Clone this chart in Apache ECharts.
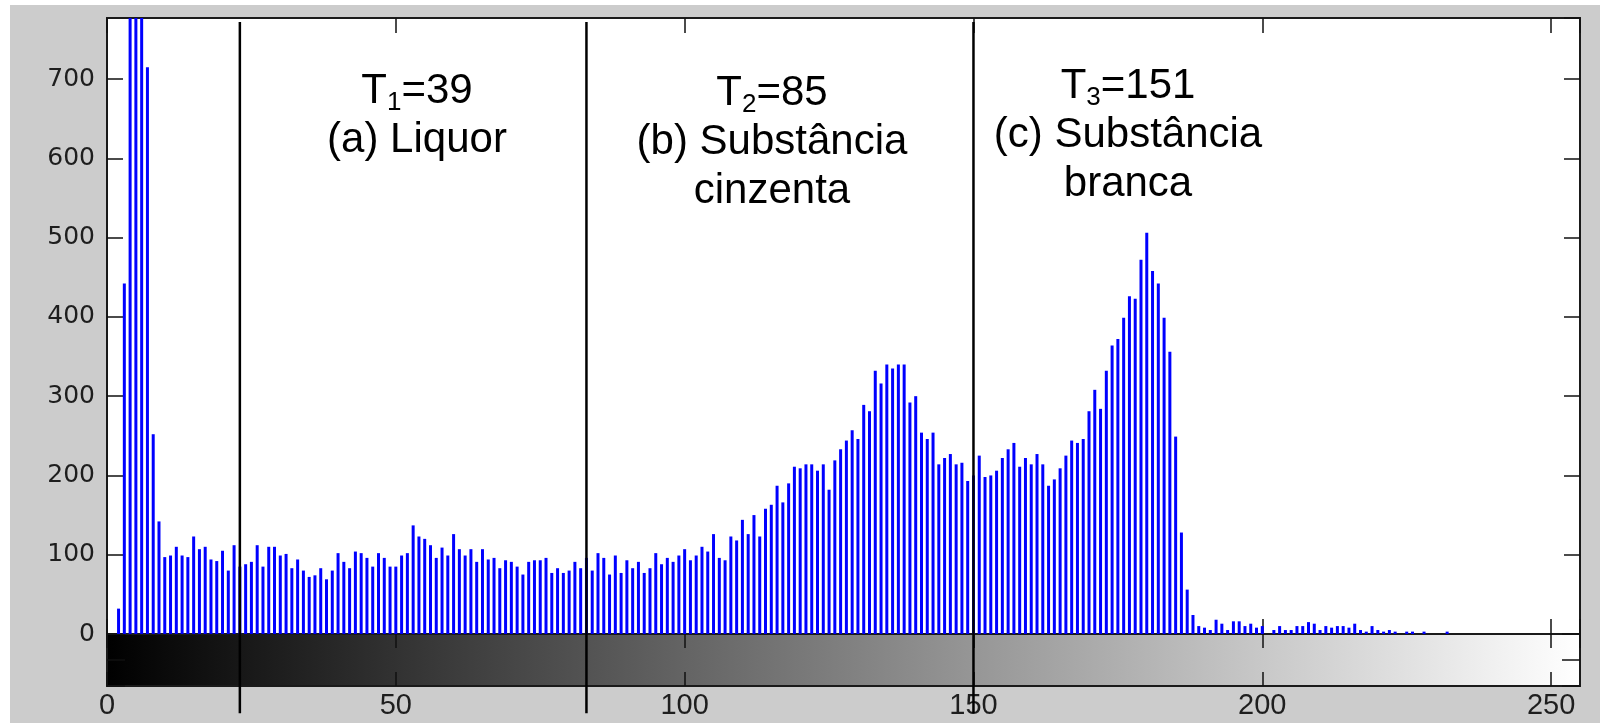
<!DOCTYPE html>
<html>
<head>
<meta charset="utf-8">
<script src="https://cdn.jsdelivr.net/npm/echarts@6/dist/echarts.min.js"></script>
<style>
  html, body { margin: 0; padding: 0; background: #ffffff; }
  #bg { position: absolute; left: 10px; top: 5px; right: 0; bottom: 0; background: #cccccc; }
  #chart { position: absolute; left: 0; top: 0; width: 1600px; height: 723px; }
</style>
</head>
<body>
<div id="bg"></div>
<div id="chart"></div>
<script>
// Histogram counts for gray levels 0..255 (bars 4-6 exceed the visible range)
const counts = [
  0, 0, 32, 442, 950, 1100, 950, 715, 252, 142,
  97, 99, 110, 99, 97, 123, 107, 110, 94, 92,
  105, 80, 112, 85, 88, 91, 112, 85, 110, 110,
  99, 101, 83, 94, 80, 72, 74, 83, 69, 80,
  102, 91, 83, 104, 102, 96, 85, 102, 96, 85,
  85, 99, 102, 137, 123, 120, 112, 96, 109, 99,
  126, 107, 99, 107, 91, 107, 94, 96, 83, 93,
  91, 85, 75, 91, 93, 93, 96, 77, 83, 77,
  80, 91, 83, 96, 80, 102, 96, 75, 99, 77,
  93, 83, 91, 77, 83, 102, 88, 96, 91, 99,
  107, 93, 99, 110, 104, 126, 96, 93, 123, 118,
  144, 126, 150, 123, 158, 163, 187, 166, 190, 211,
  209, 214, 214, 206, 214, 182, 219, 233, 244, 257,
  246, 289, 281, 332, 316, 340, 335, 340, 340, 292,
  300, 254, 246, 254, 214, 222, 227, 214, 216, 193,
  200, 225, 198, 200, 206, 222, 233, 241, 211, 222,
  214, 227, 214, 187, 195, 209, 225, 244, 241, 246,
  281, 308, 284, 332, 364, 372, 399, 426, 423, 472,
  506, 458, 442, 399, 356, 249, 128, 56, 24, 10,
  8, 5, 18, 13, 5, 16, 16, 10, 13, 8,
  10, 0, 5, 10, 5, 5, 10, 10, 15, 13,
  5, 10, 8, 10, 10, 8, 13, 5, 3, 10,
  5, 3, 5, 3, 0, 3, 3, 0, 3, 0,
  0, 0, 3, 0, 0, 0, 0, 0, 0, 0,
  0, 0, 0, 0, 0, 0, 0, 0, 0, 0,
  0, 0, 0, 0, 0, 0
];
// Threshold lines drawn on the plot (gray level)
const thresholdLines = [23, 83, 150];
// Annotation labels
const annotations = [
  { sub: '1', value: '=39', lines: ['(a) Liquor'] },
  { sub: '2', value: '=85', lines: ['(b) Substância', 'cinzenta'] },
  { sub: '3', value: '=151', lines: ['(c) Substância', 'branca'] }
];
// Gray-level range of the colour bar
const grayRange = [0, 255];
// Axis settings
const xMin = 0, xMax = 255, xInterval = 50;
const yMin = 0, yMax = 777, yInterval = 100;
const lineYBottom = -100, lineYTop = 772;

const barData = counts.map((v, i) => [i, v]);

const chart = echarts.init(document.getElementById('chart'), null, { renderer: 'canvas' });

const FONT = 'Liberation Sans, Arial, Helvetica, sans-serif';
const tickStyle = { color: '#111', width: 1.5 };

function xAx(gridIndex, position, tickLen, showLabel) {
  return {
    type: 'value', gridIndex, position, min: xMin, max: xMax, interval: xInterval,
    axisLine: { show: false, onZero: false },
    axisTick: { show: true, inside: true, length: tickLen, lineStyle: tickStyle },
    splitLine: { show: false },
    axisLabel: showLabel ? {
      show: true, showMaxLabel: false, margin: 5,
      fontFamily: FONT, fontSize: 29, color: '#1e1e1e'
    } : { show: false }
  };
}
function yAx(gridIndex, position, min, max, interval, tickLen, showLabel) {
  return {
    type: 'value', gridIndex, position, min, max, interval,
    axisLine: { show: false, onZero: false },
    axisTick: { show: true, inside: true, length: tickLen, lineStyle: tickStyle },
    splitLine: { show: false },
    axisLabel: showLabel ? {
      show: true, showMaxLabel: false, margin: 12,
      fontFamily: 'DejaVu Sans, sans-serif', fontSize: 25, color: '#1e1e1e'
    } : { show: false }
  };
}

const richStyles = {
  t: { fontFamily: FONT, fontSize: 42, lineHeight: 49, color: '#000' },
  s: { fontFamily: FONT, fontSize: 26, lineHeight: 27, color: '#000', verticalAlign: 'bottom' }
};
const annoPos = [[417, 116], [772, 142], [1128, 135]];

const graphics = annotations.map((a, k) => {
  const text = '{t|T}{s|' + a.sub + '}{t|' + a.value + '}\n' +
    a.lines.map(l => '{t|' + l + '}').join('\n');
  return {
    type: 'text', x: annoPos[k][0], y: annoPos[k][1], z: 100,
    style: {
      text, rich: richStyles,
      align: 'center', verticalAlign: 'middle',
      textAlign: 'center', textVerticalAlign: 'middle',
      fill: '#000'
    }
  };
});

const option = {
  backgroundColor: 'transparent',
  animation: false,
  grid: [
    { left: 107, top: 18, width: 1473, height: 616, show: true, backgroundColor: '#ffffff', borderColor: '#1a1a1a', borderWidth: 2 },
    { left: 107, top: 634, width: 1473, height: 52, show: true, backgroundColor: 'transparent', borderColor: '#1a1a1a', borderWidth: 2 }
  ],
  xAxis: [
    xAx(0, 'bottom', 15, false),
    xAx(0, 'top', 15, false),
    xAx(1, 'bottom', 14, true),
    xAx(1, 'top', 14, false)
  ],
  yAxis: [
    yAx(0, 'left', yMin, yMax, yInterval, 16, true),
    yAx(0, 'right', yMin, yMax, yInterval, 16, false),
    yAx(1, 'left', 0, 1, 0.5, 18, false),
    yAx(1, 'right', 0, 1, 0.5, 18, false)
  ],
  series: [
    {
      type: 'custom', name: 'colorbar', xAxisIndex: 2, yAxisIndex: 2, z: -1,
      data: [grayRange],
      encode: { x: [0, 1] },
      renderItem: (params, api) => {
        const p0 = api.coord([api.value(0), 1]);
        const p1 = api.coord([api.value(1), 0]);
        return {
          type: 'rect',
          shape: { x: p0[0], y: p0[1], width: p1[0] - p0[0], height: p1[1] - p0[1] },
          style: {
            fill: new echarts.graphic.LinearGradient(0, 0, 1, 0, [
              { offset: 0, color: '#000000' }, { offset: 1, color: '#ffffff' }
            ])
          }
        };
      }
    },
    {
      type: 'bar', name: 'counts', xAxisIndex: 0, yAxisIndex: 0, z: 2,
      data: barData, barWidth: 3, clip: true,
      itemStyle: { color: '#0000ff' }
    },
    {
      type: 'custom', name: 'thresholds', xAxisIndex: 0, yAxisIndex: 0, z: 10, clip: false,
      data: thresholdLines.map(t => [t, 0]),
      encode: { x: 0, y: 1 },
      renderItem: (params, api) => {
        const x = api.value(0);
        const p0 = api.coord([x, lineYBottom]);
        const p1 = api.coord([x, lineYTop]);
        return {
          type: 'line',
          shape: { x1: p0[0], y1: p0[1], x2: p1[0], y2: p1[1] },
          style: { stroke: '#000', lineWidth: 2.5 }
        };
      }
    }
  ],
  graphic: graphics
};
chart.setOption(option);
</script>
</body>
</html>
